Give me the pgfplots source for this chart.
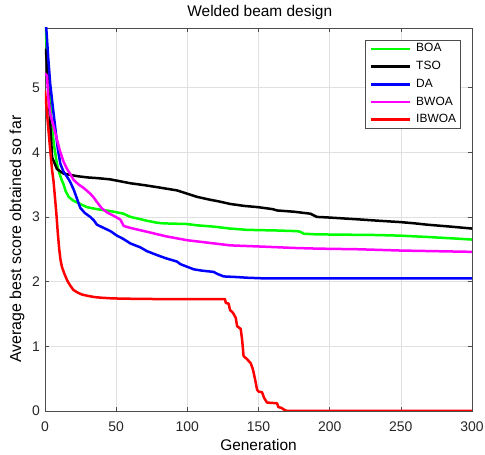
\documentclass[border=0pt]{standalone}
\usepackage{fontspec}
\setmainfont{Liberation Sans}
\usepackage{pgfplots}
\pgfplotsset{compat=1.18}
\definecolor{mgreen}{rgb}{0,1,0}
\definecolor{mblue}{rgb}{0,0,1}
\definecolor{mmag}{rgb}{1,0,1}
\definecolor{mred}{rgb}{1,0,0}
\begin{document}
\begin{tikzpicture}
\begin{axis}[
  at={(0,0)}, anchor=south west,
  scale only axis, width=427bp, height=383bp,
  xmin=0, xmax=300, ymin=0, ymax=5.92,
  xtick={0,50,...,300}, ytick={0,1,...,5},
  grid=major, major grid style={black!12, line width=0.5bp},
  axis line style={black!70, line width=0.6bp},
  tick style={black!70, line width=0.6bp},
  tick align=inside, major tick length=4bp,
  /pgf/number format/assume math mode=true,
  ticklabel style={font=\fontsize{14}{16}\selectfont, text=black!85},
  xticklabel style={yshift=-7bp},
  yticklabel style={xshift=-1.5bp},
  title={Welded beam design},
  title style={font=\fontsize{15.5}{18}\selectfont, at={(axis description cs:0.503,1.0143)}, anchor=base},
  xlabel={Generation},
  xlabel style={font=\fontsize{15.5}{18}\selectfont, at={(axis description cs:0.5,-0.103)}, anchor=base},
  ylabel={Average best score obtained so far},
  ylabel style={font=\fontsize{16}{18}\selectfont, at={(axis description cs:-0.0562,0.449)}, anchor=base},
  legend style={at={(0.974,0.9696)}, anchor=north east, draw=black!70, line width=0.6bp,
    inner xsep=4.5bp, inner ysep=3bp, font=\fontsize{12}{14}\selectfont,
    nodes={inner sep=0pt, text height=9bp, text depth=3bp}, row sep=5.7bp, column sep=5bp},
  legend cell align=left,
  legend image code/.code={\draw[#1] (0bp,0bp) -- (39bp,0bp);},
  every axis plot/.append style={line width=2.5bp, line join=round},
]
% BOA
\addplot[color=mgreen] coordinates {
(0,6.1) (0.5,5.9) (1.4,5.57) (3,4.95) (4.9,4.38) (6.5,4.08) (8.4,3.82) (10,3.68) (11.9,3.56) (13.1,3.5) (14.5,3.4) (16.6,3.31) (20,3.25) (24.8,3.2) (29.5,3.15) (36.5,3.12) (43,3.1) (48.3,3.08) (55,3.05) (60,3.0) (66,2.97) (71.7,2.94) (78.7,2.91) (83.4,2.9) (99.8,2.89) (106.8,2.87) (118.5,2.85) (130,2.82) (141.9,2.8) (163,2.79) (177,2.78) (179.4,2.77) (181.8,2.74) (191,2.73) (233.3,2.72) (250,2.71) (268.4,2.69) (285,2.67) (300,2.65)
};
\addlegendentry{BOA}
% TSO
\addplot[color=black] coordinates {
(0,5.6) (1,5.5) (3,4.7) (5,3.92) (8.4,3.74) (13,3.67) (22.5,3.63) (30,3.61) (36.5,3.6) (46,3.58) (50.6,3.56) (60,3.52) (70,3.49) (78.7,3.46) (92.7,3.41) (99.8,3.36) (106.8,3.31) (115,3.27) (122,3.24) (130.2,3.2) (140,3.17) (150,3.15) (160,3.12) (163,3.10) (175,3.08) (186.4,3.05) (191,3.0) (200,2.99) (221.5,2.96) (235,2.94) (249.6,2.92) (260,2.9) (268.4,2.88) (285,2.85) (300,2.82)
};
\addlegendentry{TSO}
% DA
\addplot[color=mblue] coordinates {
(0,6.1) (0.9,5.92) (2.3,5.45) (3.7,5.05) (5.5,4.7) (7.2,4.38) (9,4.05) (10.8,3.82) (13,3.7) (15.5,3.62) (17.5,3.55) (20.2,3.42) (22.5,3.28) (24.8,3.14) (28,3.06) (31.8,3.0) (34.2,2.95) (36.5,2.88) (41.2,2.83) (46,2.78) (50.6,2.71) (55,2.66) (60,2.59) (66.9,2.53) (71.7,2.47) (78.7,2.41) (85,2.36) (92.7,2.31) (95.1,2.27) (104.5,2.19) (110,2.17) (118.5,2.15) (121,2.12) (125.5,2.08) (135,2.07) (141.9,2.06) (153.7,2.05) (300,2.05)
};
\addlegendentry{DA}
% BWOA
\addplot[color=mmag] coordinates {
(0,5.22) (1.4,5.18) (2.5,4.8) (3.7,4.59) (6,4.4) (8.4,4.2) (10.5,4.02) (13.1,3.85) (15.5,3.74) (17.8,3.66) (20.2,3.57) (23.7,3.5) (27,3.45) (31.8,3.36) (34.2,3.3) (36.5,3.23) (40,3.13) (43.6,3.07) (48,3.02) (52.9,2.96) (55.3,2.86) (60,2.83) (71.7,2.77) (85,2.7) (99.8,2.64) (115,2.6) (130.2,2.56) (153.7,2.54) (175,2.52) (191,2.51) (220,2.5) (250,2.48) (275,2.47) (300,2.46)
};
\addlegendentry{BWOA}
% IBWOA
\addplot[color=mred] coordinates {
(0,4.95) (1,4.72) (2,4.45) (3,4.2) (4,3.95) (5,3.72) (6,3.55) (7,3.3) (8,3.05) (9,2.75) (10,2.5) (11,2.32) (12,2.22) (14,2.1) (16,2.0) (18,1.93) (20,1.87) (23,1.83) (26,1.80) (30,1.78) (35,1.76) (40,1.75) (48,1.74) (60,1.735) (80,1.73) (100,1.73) (126.5,1.73) (127,1.67) (129,1.66) (130,1.56) (132,1.52) (134,1.44) (135,1.31) (137.5,1.27) (138.5,1.1) (139.5,0.85) (142,0.8) (144.5,0.74) (146,0.65) (147.5,0.5) (149,0.33) (150,0.3) (152.5,0.29) (154,0.2) (156,0.13) (163,0.12) (164,0.06) (166,0.05) (168,0.02) (170,0) (300,0)
};
\addlegendentry{IBWOA}
\end{axis}
\pgfresetboundingbox
\path[use as bounding box] (-45bp,-44bp) rectangle (440bp,411bp);
\end{tikzpicture}
\end{document}
